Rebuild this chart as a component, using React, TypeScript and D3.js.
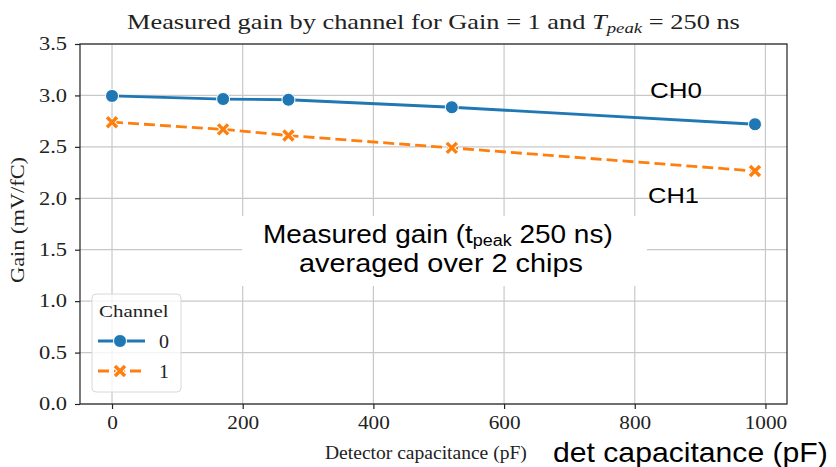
import { useEffect, useRef } from 'react';
import * as d3 from 'd3';

const capacitance = [0, 170, 270, 520, 984];
const ch0Gain = [2.995, 2.965, 2.958, 2.885, 2.72];
const ch1Gain = [2.74, 2.67, 2.61, 2.49, 2.265];
const channels = ["0", "1"];
const xTicks = [0, 200, 400, 600, 800, 1000];
const yTicks = [0, 0.5, 1.0, 1.5, 2.0, 2.5, 3.0, 3.5];

const colors = ["#1f77b4", "#ff7f0e"];
const serif = "'Liberation Serif', 'Times New Roman', serif";
const sans = "'Liberation Sans', Arial, sans-serif";

// squeeze/stretch a text horizontally so its box runs from x1 to x2
function fitWidth(sel: any, x1: number, x2: number) {
  const b = sel.node().getBBox();
  const s = (x2 - x1) / b.width;
  sel.attr("transform", `translate(${x1 - s * b.x},0) scale(${s},1)`);
}

// stretch a text horizontally by s, keeping x = ax fixed
function stretchAbout(sel: any, s: number, ax: number) {
  sel.attr("transform", `translate(${ax * (1 - s)},0) scale(${s},1)`);
}

export default function App() {
  const ref = useRef<SVGSVGElement | null>(null);

  useEffect(() => {
    if (!ref.current) return;
    const svg = d3.select(ref.current);
    svg.selectAll("*").remove();

    const width = 836;
    const height = 467;
    const margin = { top: 44, right: 49, bottom: 63, left: 80 };

    const x = d3.scaleLinear()
      .domain([-49, 1033])
      .range([margin.left, width - margin.right]);
    const y = d3.scaleLinear()
      .domain([0, 3.5])
      .range([height - margin.bottom, margin.top]);

    svg.append("rect")
      .attr("width", width)
      .attr("height", height)
      .attr("fill", "#fff");

    // grid
    svg.append("g")
      .selectAll("line")
      .data(xTicks)
      .enter()
      .append("line")
      .attr("x1", d => x(d))
      .attr("x2", d => x(d))
      .attr("y1", margin.top)
      .attr("y2", height - margin.bottom)
      .attr("stroke", "#c8c8c8")
      .attr("stroke-width", 1.2);
    svg.append("g")
      .selectAll("line")
      .data(yTicks)
      .enter()
      .append("line")
      .attr("x1", margin.left)
      .attr("x2", width - margin.right)
      .attr("y1", d => y(d))
      .attr("y2", d => y(d))
      .attr("stroke", "#c8c8c8")
      .attr("stroke-width", 1.2);

    // annotation box (covers grid)
    svg.append("rect")
      .attr("x", 242)
      .attr("y", 216)
      .attr("width", 405)
      .attr("height", 70)
      .attr("fill", "#fff");

    const series = [ch0Gain, ch1Gain];
    const line = d3.line<number>()
      .x((_, i) => x(capacitance[i]))
      .y(d => y(d));

    series.forEach((vals, s) => {
      svg.append("path")
        .datum(vals)
        .attr("fill", "none")
        .attr("stroke", colors[s])
        .attr("stroke-width", 2.8)
        .attr("stroke-dasharray", s === 1 ? "11,5" : null)
        .attr("d", line);
    });

    const drawMarker = (g: any, cx: number, cy: number, s: number) => {
      if (s === 0) {
        g.append("circle")
          .attr("cx", cx)
          .attr("cy", cy)
          .attr("r", 6.5)
          .attr("fill", colors[0])
          .attr("stroke", "#fff")
          .attr("stroke-width", 1);
      } else {
        const r = 5;
        const p = `M${cx - r},${cy - r}L${cx + r},${cy + r}M${cx - r},${cy + r}L${cx + r},${cy - r}`;
        g.append("path")
          .attr("d", p)
          .attr("stroke", "#fff")
          .attr("stroke-width", 5.5);
        g.append("path")
          .attr("d", p)
          .attr("stroke", colors[1])
          .attr("stroke-width", 3.5);
      }
    };

    series.forEach((vals, s) => {
      const g = svg.append("g");
      vals.forEach((v, i) => drawMarker(g, x(capacitance[i]), y(v), s));
    });

    // axes
    const xAxis = svg.append("g")
      .attr("transform", `translate(0,${height - margin.bottom})`)
      .call(d3.axisBottom(x).tickValues(xTicks).tickSize(5).tickPadding(7).tickFormat(d3.format("d")));
    const yAxis = svg.append("g")
      .attr("transform", `translate(${margin.left},0)`)
      .call(d3.axisLeft(y).tickValues(yTicks).tickSize(5).tickPadding(8).tickFormat(d3.format(".1f")));
    [xAxis, yAxis].forEach(a => {
      a.select(".domain").remove();
      a.selectAll("line").attr("stroke", "#222").attr("stroke-width", 1.2);
      a.selectAll("text")
        .attr("font-family", serif)
        .attr("font-size", 18)
        .attr("fill", "#222");
    });
    xAxis.selectAll("text").each(function () {
      stretchAbout(d3.select(this), 1.18, 0);
    });
    yAxis.selectAll("text").each(function () {
      stretchAbout(d3.select(this), 1.25, -13);
    });

    svg.append("rect")
      .attr("x", margin.left)
      .attr("y", margin.top)
      .attr("width", width - margin.left - margin.right)
      .attr("height", height - margin.top - margin.bottom)
      .attr("fill", "none")
      .attr("stroke", "#222")
      .attr("stroke-width", 1.2);

    // title
    const title = svg.append("text")
      .attr("x", 0)
      .attr("y", 29)
      .attr("font-family", serif)
      .attr("font-size", 21)
      .attr("fill", "#222");
    title.append("tspan").text("Measured gain by channel for Gain = 1 and ");
    title.append("tspan").attr("font-style", "italic").text("T");
    title.append("tspan").attr("font-style", "italic").attr("font-size", 15).attr("dy", 4).text("peak");
    title.append("tspan").attr("dy", -4).text(" = 250 ns");
    fitWidth(title, 127, 740);

    // axis labels
    const yl = svg.append("g").attr("transform", "translate(24,220) rotate(-90)");
    const ylText = yl.append("text")
      .attr("x", 0)
      .attr("y", 0)
      .attr("text-anchor", "middle")
      .attr("font-family", serif)
      .attr("font-size", 18)
      .attr("fill", "#222")
      .text("Gain (mV/fC)");
    fitWidth(ylText, -63, 63);

    const xl = svg.append("text")
      .attr("x", 0)
      .attr("y", 459)
      .attr("font-family", serif)
      .attr("font-size", 18)
      .attr("fill", "#222")
      .text("Detector capacitance (pF)");
    fitWidth(xl, 325, 527);

    const dl = svg.append("text")
      .attr("x", 0)
      .attr("y", 462)
      .attr("font-family", sans)
      .attr("font-size", 27)
      .attr("fill", "#000")
      .text("det capacitance (pF)");
    fitWidth(dl, 553, 828);

    // CH labels
    const ch0 = svg.append("text")
      .attr("x", 0)
      .attr("y", 98)
      .attr("font-family", sans)
      .attr("font-size", 22)
      .attr("fill", "#000")
      .text("CH0");
    fitWidth(ch0, 650, 702);
    const ch1 = svg.append("text")
      .attr("x", 0)
      .attr("y", 203)
      .attr("font-family", sans)
      .attr("font-size", 22)
      .attr("fill", "#000")
      .text("CH1");
    fitWidth(ch1, 648, 699);

    // annotation text
    const ann = svg.append("text")
      .attr("x", 0)
      .attr("y", 243)
      .attr("font-family", sans)
      .attr("font-size", 25)
      .attr("fill", "#000");
    ann.append("tspan").text("Measured gain (t");
    ann.append("tspan").attr("font-size", 16).attr("dy", 3).text("peak");
    ann.append("tspan").attr("dy", -3).text(" 250 ns)");
    fitWidth(ann, 263, 613);
    const ann2 = svg.append("text")
      .attr("x", 0)
      .attr("y", 272)
      .attr("font-family", sans)
      .attr("font-size", 25)
      .attr("fill", "#000")
      .text("averaged over 2 chips");
    fitWidth(ann2, 299, 583);

    // legend
    const lg = svg.append("g").attr("transform", "translate(92,294)");
    lg.append("rect")
      .attr("width", 89)
      .attr("height", 98)
      .attr("rx", 4)
      .attr("fill", "#fff")
      .attr("fill-opacity", 0.8)
      .attr("stroke", "#d8d8d8")
      .attr("stroke-width", 1);
    const lt = lg.append("text")
      .attr("x", 0)
      .attr("y", 23)
      .attr("font-family", serif)
      .attr("font-size", 17)
      .attr("fill", "#222")
      .text("Channel");
    fitWidth(lt, 7, 77);
    channels.forEach((c, i) => {
      const ly = 47 + i * 30;
      lg.append("line")
        .attr("x1", 6)
        .attr("x2", 53)
        .attr("y1", ly)
        .attr("y2", ly)
        .attr("stroke", colors[i])
        .attr("stroke-width", 2.8)
        .attr("stroke-dasharray", i === 1 ? "11,5" : null);
      drawMarker(lg, 28, ly, i);
      const t = lg.append("text")
        .attr("x", 0)
        .attr("y", ly + 7)
        .attr("font-family", serif)
        .attr("font-size", 18)
        .attr("fill", "#222")
        .text(c);
      fitWidth(t, 67, 77);
    });
  }, []);

  return <svg ref={ref} width={836} height={467} style={{ display: 'block', position: 'absolute', left: 0, top: 0 }} />;
}
